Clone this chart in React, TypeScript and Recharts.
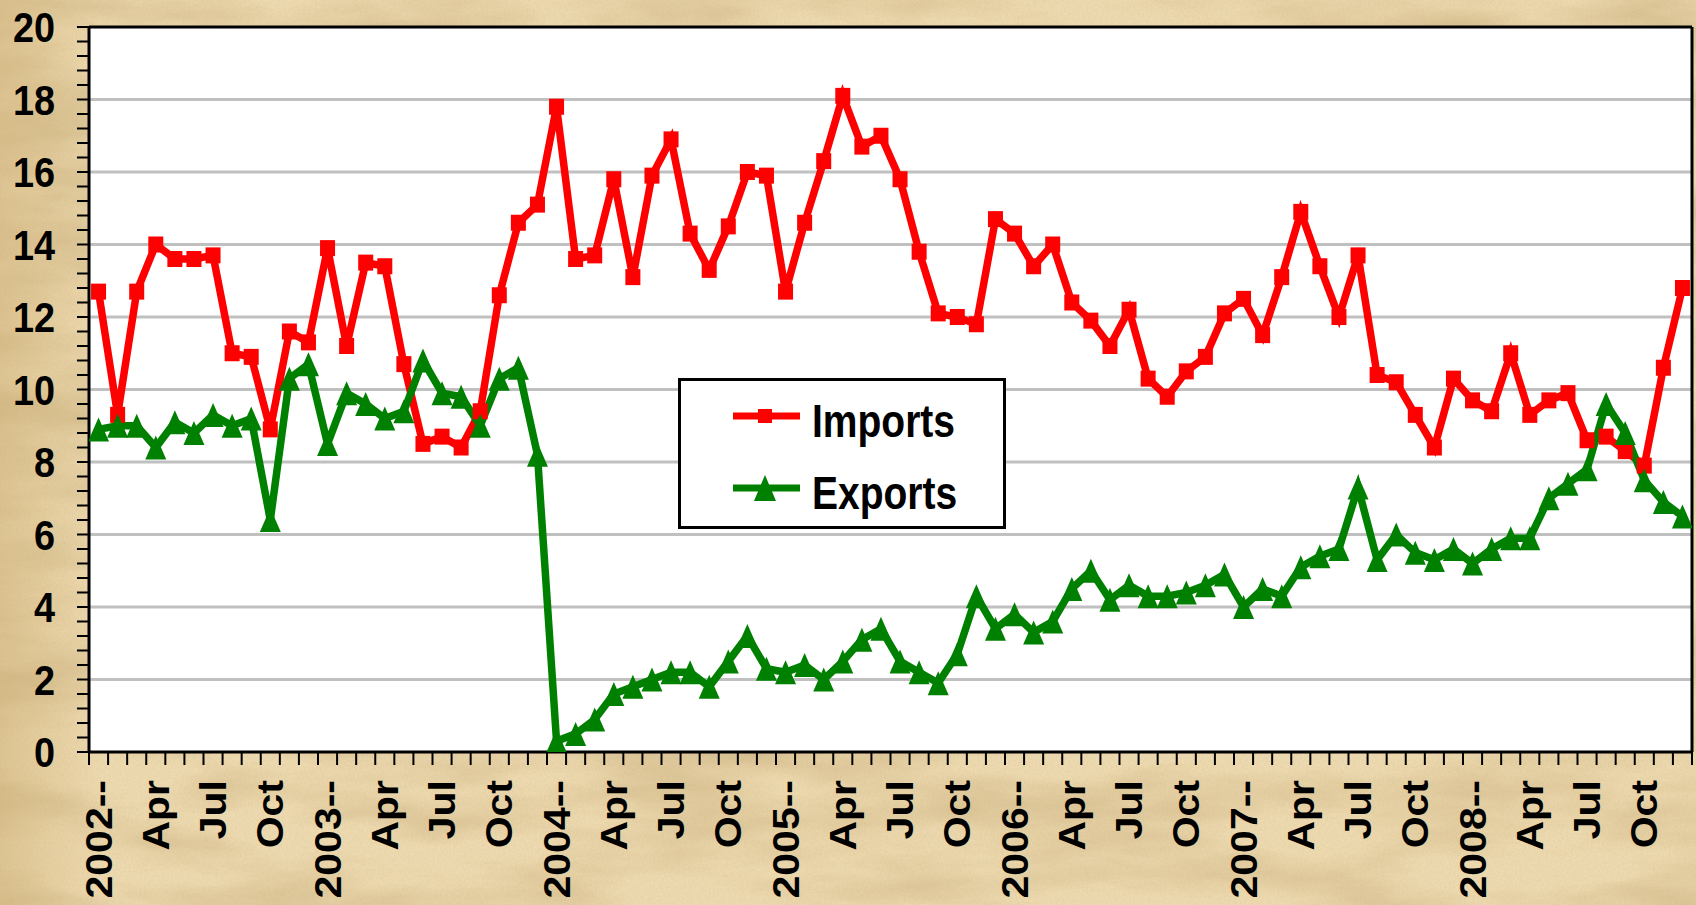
import React from 'react';
import { LineChart, Line, XAxis, YAxis, CartesianGrid, ReferenceLine, Legend } from 'recharts';

// Monthly values, Jan 2002 .. Dec 2008
const importValues = [
  12.7, 9.3, 12.7, 14.0, 13.6, 13.6, 13.7, 11.0, 10.9, 8.9, 11.6, 11.3,
  13.9, 11.2, 13.5, 13.4, 10.7, 8.5, 8.7, 8.4, 9.4, 12.6, 14.6, 15.1,
  17.8, 13.6, 13.7, 15.8, 13.1, 15.9, 16.9, 14.3, 13.3, 14.5, 16.0, 15.9,
  12.7, 14.6, 16.3, 18.1, 16.7, 17.0, 15.8, 13.8, 12.1, 12.0, 11.8, 14.7,
  14.3, 13.4, 14.0, 12.4, 11.9, 11.2, 12.2, 10.3, 9.8, 10.5, 10.9, 12.1,
  12.5, 11.5, 13.1, 14.9, 13.4, 12.0, 13.7, 10.4, 10.2, 9.3, 8.4, 10.3,
  9.7, 9.4, 11.0, 9.3, 9.7, 9.9, 8.6, 8.7, 8.3, 7.9, 10.6, 12.8,
];

const exportValues = [
  8.9, 9.0, 9.0, 8.4, 9.1, 8.8, 9.3, 9.0, 9.2, 6.4, 10.3, 10.7,
  8.5, 9.9, 9.6, 9.2, 9.4, 10.8, 9.9, 9.8, 9.0, 10.3, 10.6, 8.2,
  0.3, 0.5, 0.9, 1.6, 1.8, 2.0, 2.2, 2.2, 1.8, 2.5, 3.2, 2.3,
  2.2, 2.4, 2.0, 2.5, 3.1, 3.4, 2.5, 2.2, 1.9, 2.7, 4.3, 3.4,
  3.8, 3.3, 3.6, 4.5, 5.0, 4.2, 4.6, 4.3, 4.3, 4.4, 4.6, 4.9,
  4.0, 4.5, 4.3, 5.1, 5.4, 5.6, 7.3, 5.3, 6.0, 5.5, 5.3, 5.6,
  5.2, 5.6, 5.9, 5.9, 7.0, 7.4, 7.8, 9.6, 8.8, 7.5, 6.9, 6.5,
];

// One label every third month
const tickLabels = [
  '2002--', 'Apr', 'Jul', 'Oct',
  '2003--', 'Apr', 'Jul', 'Oct',
  '2004--', 'Apr', 'Jul', 'Oct',
  '2005--', 'Apr', 'Jul', 'Oct',
  '2006--', 'Apr', 'Jul', 'Oct',
  '2007--', 'Apr', 'Jul', 'Oct',
  '2008--', 'Apr', 'Jul', 'Oct',
];

const seriesNames = ['Imports', 'Exports'];
const gridValues = [2, 4, 6, 8, 10, 12, 14, 16, 18];

const MONTHS = importValues.length;
const data = importValues.map((v, i) => ({ x: i + 0.5, imports: v, exports: exportValues[i] }));

const labelPositions = tickLabels.map((_, j) => j * 3 + 0.5);
const boundaryTicks = Array.from({ length: MONTHS + 1 }, (_, i) => i);
const xTicks = [...boundaryTicks, ...labelPositions].sort((a, b) => a - b);
const yTicks = Array.from({ length: 51 }, (_, k) => Math.round(k * 4) / 10);

const FONT = '"Liberation Sans", Arial, Helvetica, sans-serif';
const RED = '#FF0000';
const GREEN = '#008000';

const XTick = (props: any) => {
  const { x, y, payload } = props;
  const v = payload.value;
  if (Math.abs(v - Math.round(v)) < 1e-6) {
    return <line x1={x} x2={x} y1={y} y2={y + 13} stroke="#000" strokeWidth={2} />;
  }
  const j = Math.round((v - 0.5) / 3);
  return (
    <g transform={`translate(${x},${y + 28}) scale(0.89,1) rotate(-90)`}>
      <text x={0} y={0} dy="0.36em" textAnchor="end" fontFamily={FONT} fontWeight="bold" fontSize={41} fill="#000">
        {tickLabels[j]}
      </text>
    </g>
  );
};

const YTick = (props: any) => {
  const { x, y, payload } = props;
  const v = payload.value;
  const half = v / 2;
  if (Math.abs(half - Math.round(half)) > 1e-6) return <g />;
  return (
    <g transform={`translate(${x},${y}) scale(0.88,1)`}>
      <text x={0} y={0} dy="0.36em" textAnchor="end" fontFamily={FONT} fontWeight="bold" fontSize={43} fill="#000">
        {Math.round(v)}
      </text>
    </g>
  );
};

const SquareDot = (props: any) => {
  const { cx, cy, index } = props;
  if (cx == null || cy == null) return <g key={`s-${index}`} />;
  return <rect key={`s-${index}`} x={cx - 7.5} y={cy - 8} width={15} height={16} fill={RED} />;
};

const TriangleDot = (props: any) => {
  const { cx, cy, index } = props;
  if (cx == null || cy == null) return <g key={`t-${index}`} />;
  return (
    <path
      key={`t-${index}`}
      d={`M${cx},${cy - 12} L${cx + 10.5},${cy + 12} L${cx - 10.5},${cy + 12} Z`}
      fill={GREEN}
    />
  );
};

const LegendBox = () => (
  <svg width={328} height={151} style={{ display: 'block' }}>
    <rect x={1.5} y={1.5} width={325} height={148} fill="#fff" stroke="#000" strokeWidth={3} />
    <line x1={55} x2={122} y1={38} y2={38} stroke={RED} strokeWidth={7} />
    <rect x={80} y={31} width={14} height={14} fill={RED} />
    <g transform="translate(134,59) scale(0.83,1)">
      <text x={0} y={0} fontFamily={FONT} fontWeight="bold" fontSize={47} fill="#000">{seriesNames[0]}</text>
    </g>
    <line x1={55} x2={122} y1={110} y2={110} stroke={GREEN} strokeWidth={7} />
    <path d="M87,97 L98,123 L76,123 Z" fill={GREEN} />
    <g transform="translate(134,131) scale(0.83,1)">
      <text x={0} y={0} fontFamily={FONT} fontWeight="bold" fontSize={47} fill="#000">{seriesNames[1]}</text>
    </g>
  </svg>
);

const Parchment = () => (
  <svg width={1696} height={905} style={{ position: 'absolute', left: 0, top: 0 }}>
    <defs>
      <filter id="mottle" x="0" y="0" width="100%" height="100%">
        <feTurbulence type="fractalNoise" baseFrequency="0.005 0.018" numOctaves={5} seed={7} />
        <feColorMatrix
          type="matrix"
          values="0 0 0 0 0.6  0 0 0 0 0.45  0 0 0 0 0.22  1.8 0 0 0 -0.68"
        />
      </filter>
      <filter id="grain" x="0" y="0" width="100%" height="100%">
        <feTurbulence type="fractalNoise" baseFrequency="0.45" numOctaves={2} seed={3} />
        <feColorMatrix
          type="matrix"
          values="0 0 0 0 0.55  0 0 0 0 0.42  0 0 0 0 0.22  1.0 0 0 0 -0.3"
        />
      </filter>
      <linearGradient id="edge" x1="0" y1="0" x2="1" y2="0">
        <stop offset="0" stopColor="#C9A96E" stopOpacity={0.45} />
        <stop offset="0.06" stopColor="#C9A96E" stopOpacity={0} />
        <stop offset="1" stopColor="#C9A96E" stopOpacity={0} />
      </linearGradient>
    </defs>
    <rect x={0} y={0} width={1696} height={905} fill="#EEDAB0" />
    <rect x={0} y={0} width={1696} height={905} filter="url(#mottle)" opacity={0.75} />
    <rect x={0} y={0} width={1696} height={905} filter="url(#grain)" opacity={0.3} />
    <rect x={0} y={0} width={1696} height={905} fill="url(#edge)" />
  </svg>
);

export default function App() {
  return (
    <div style={{ position: 'fixed', left: 0, top: 0, width: 1696, height: 905, overflow: 'hidden' }}>
      <Parchment />
      <LineChart
        width={1696}
        height={905}
        data={data}
        margin={{ top: 27, right: 4, bottom: 0, left: 0 }}
      >
        <CartesianGrid
          horizontal
          vertical={false}
          horizontalValues={gridValues}
          stroke="#C0C0C0"
          strokeWidth={3}
          fill="#FFFFFF"
          fillOpacity={1}
        />
        <XAxis
          dataKey="x"
          type="number"
          domain={[0, MONTHS]}
          ticks={xTicks}
          interval={0}
          height={153}
          tickSize={0}
          tickMargin={0}
          tickLine={false}
          tick={XTick}
          axisLine={{ stroke: '#000', strokeWidth: 3 }}
          allowDataOverflow
        />
        <YAxis
          type="number"
          domain={[0, 20]}
          ticks={yTicks}
          interval={0}
          width={89}
          tickSize={12}
          tickMargin={22}
          tickLine={{ stroke: '#000', strokeWidth: 2 }}
          tick={YTick}
          axisLine={{ stroke: '#000', strokeWidth: 3 }}
          allowDataOverflow
        />
        <ReferenceLine y={20} stroke="#000" strokeWidth={3} />
        <ReferenceLine x={MONTHS} stroke="#000" strokeWidth={3} />
        <Line
          type="linear"
          dataKey="imports"
          name={seriesNames[0]}
          stroke={RED}
          strokeWidth={7.5}
          dot={SquareDot}
          activeDot={false}
          isAnimationActive={false}
        />
        <Line
          type="linear"
          dataKey="exports"
          name={seriesNames[1]}
          stroke={GREEN}
          strokeWidth={7.5}
          dot={TriangleDot}
          activeDot={false}
          isAnimationActive={false}
        />
        <Legend
          verticalAlign="middle"
          align="center"
          layout="horizontal"
          wrapperStyle={{ left: 678, top: 378, width: 328, height: 151 }}
          content={LegendBox}
        />
      </LineChart>
    </div>
  );
}
